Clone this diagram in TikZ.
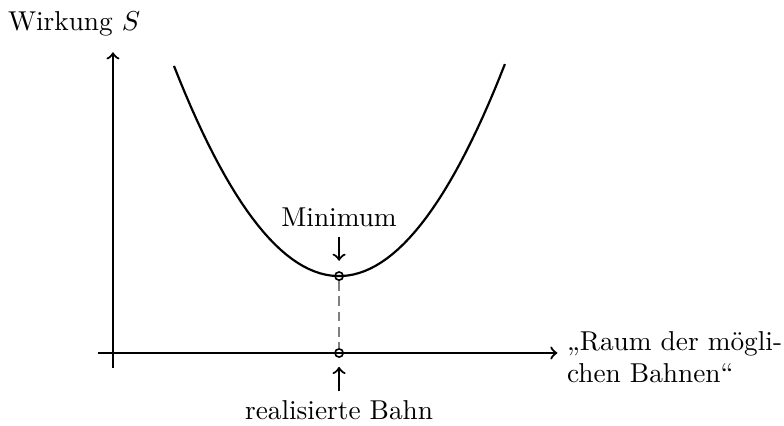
\documentclass[tikz,border=0pt]{standalone}
\usetikzlibrary{positioning, calc}

\begin{document}
\begin{tikzpicture}[
  axis/.style={thick, ->},
  curve/.style={thick},
  pt/.style={circle, draw, semithick, inner sep=0pt, minimum size=3pt},
  guide/.style={thick, gray, dash pattern=on 3.6pt off 2pt},
  pointer/.style={thick, ->},
]
  \useasboundingbox (-1.454, -0.927) rectangle (8.636, 4.543);
  \def\xmin{2.91}
  \def\ymin{0.99}

  % --- axes ---
  \coordinate (ylo) at (0, -0.19);
  \coordinate (yhi) at (0, 3.87);
  \coordinate (xlo) at (-0.19, 0);
  \coordinate (xhi) at (5.72, 0);
  \draw[axis] (ylo) -- (yhi);
  \draw[axis] (xlo) -- (xhi);
  \node[anchor=base] (wirkung) at (-0.50, 4.157) {Wirkung $S$};
  \node[anchor=west, align=left, right=0pt of xhi, yshift=-1.5pt] (raum)
    {„Raum der mögli-\\chen Bahnen“};

  % --- action curve ---
  \draw[curve, domain=0.785:5.045, samples=60]
    plot (\x, {\ymin + 0.599*(\x-\xmin)*(\x-\xmin)});

  % --- minimum and realised path ---
  \node[pt] (min) at (\xmin, \ymin) {};
  \node[pt] (bahn) at (\xmin, 0) {};
  \draw[guide] (min) -- (bahn);

  \node[anchor=base] (minlbl) at (\xmin, 1.622) {Minimum};
  \draw[pointer, shorten >=3.8pt] (minlbl.south) -- (min.north);
  \node[anchor=base] (bahnlbl) at (\xmin, -0.862) {realisierte Bahn};
  \draw[pointer, shorten >=3.3pt] (bahnlbl.north) -- (bahn.south);
\end{tikzpicture}
\end{document}
